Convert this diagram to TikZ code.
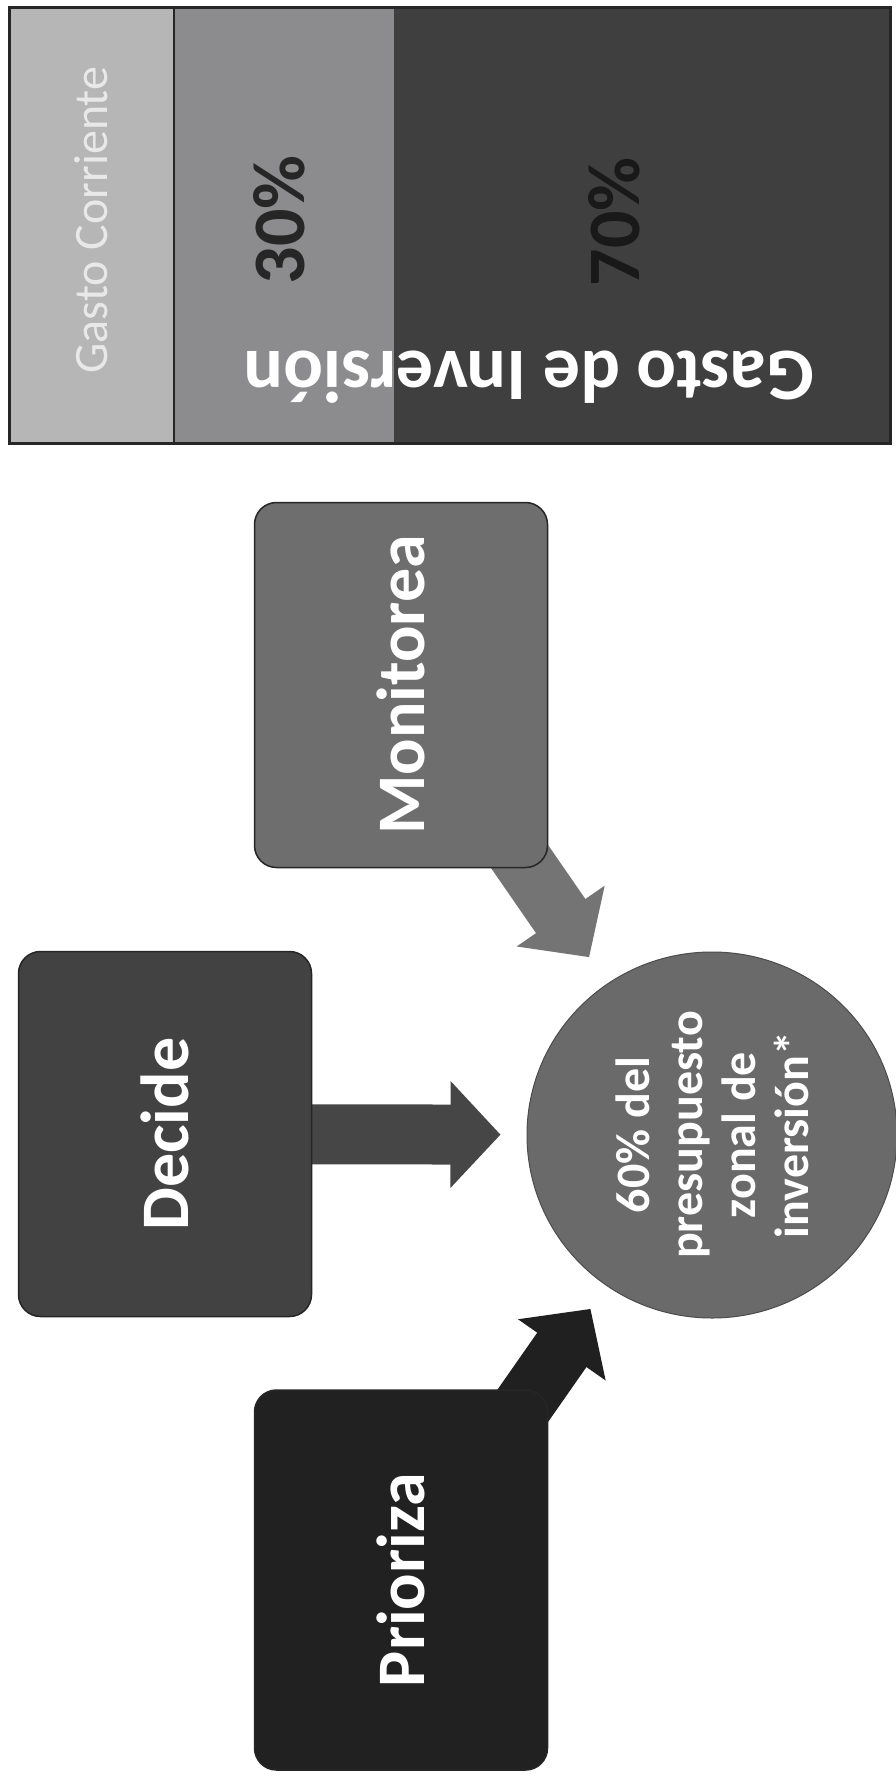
\documentclass[tikz,border=0pt]{standalone}
\usepackage{fontspec}
\setmainfont{Carlito}
\usetikzlibrary{arrows.meta, shapes.geometric}

\pgfdeclarelayer{fondo}
\pgfdeclarelayer{flechas}
\pgfsetlayers{fondo,flechas,main}

\definecolor{grisclaro}{HTML}{B6B6B6}
\definecolor{grismedio}{HTML}{8C8C8E}
\definecolor{grisoscuro}{HTML}{3F3F3F}
\definecolor{textoclaro}{HTML}{E8E8E8}
\definecolor{cajamonitorea}{HTML}{6E6E6E}
\definecolor{cajadecide}{HTML}{424242}
\definecolor{cajaprioriza}{HTML}{212121}
\definecolor{circulogris}{HTML}{6A6A6A}
\definecolor{flechamonitorea}{HTML}{747474}
\definecolor{flechadecide}{HTML}{464646}
\definecolor{flechaprioriza}{HTML}{202020}

\newcommand{\porcentaje}{\fontsize{74}{76}\selectfont\bfseries}

\tikzset{
  caja/.style={rectangle, rounded corners=22pt, draw=black!85, line width=1.5pt,
    rotate=90, minimum width=365pt, minimum height=293pt, inner sep=0pt,
    text=white, font=\fontsize{68}{70}\selectfont\bfseries},
  circulo/.style={ellipse, rotate=90, minimum width=366pt, minimum height=370pt,
    inner sep=0pt, fill=circulogris, draw=black!70, line width=1pt, align=center,
    text=white, font=\fontsize{48}{53}\selectfont\bfseries},
  flecha/.style={line width=60pt, -{Triangle[width=104pt, length=50pt]}}
}

\begin{document}
\begin{tikzpicture}[x=1pt, y=-1pt]
\useasboundingbox (0,0) rectangle (896,1776);
\begin{pgfonlayer}{fondo}
\fill[white] (0,0) rectangle (896,1776);
\end{pgfonlayer}

% Barra superior: gasto corriente y gasto de inversión
\fill[grisclaro] (9,8) rectangle (174,443);
\fill[grismedio] (174,8) rectangle (394,443);
\fill[grisoscuro] (394,8) rectangle (890,443);
\draw[line width=2pt, black!85] (174,8) -- (174,443);
\draw[line width=3pt, black!85] (9,8) rectangle (890,443);
\node[rotate=90, text=textoclaro, font=\fontsize{48}{50}\selectfont] (corriente) at (91,220) {Gasto Corriente};
\node[rotate=90, text=black!85, font=\porcentaje] (treinta) at (279,220) {30\%};
\node[rotate=90, text=black!90, font=\porcentaje] (setenta) at (614,222) {70\%};
\node[rotate=180, text=white, font=\porcentaje] (inversion) at (529,377) {Gasto de Inversión};

% Cajas: monitorea, decide, prioriza
\node[caja, fill=cajamonitorea] (monitorea) at (401,685) {Monitorea};
\node[caja, fill=cajadecide] (decide) at (165,1134) {Decide};
\node[caja, fill=cajaprioriza, minimum width=380pt] (prioriza) at (401,1580) {Prioriza};

% Círculo: 60% del presupuesto
\node[circulo] (presupuesto) at (712,1135) {60\% del\\presupuesto\\zonal de\\inversión*};

% Flechas hacia el círculo
\begin{pgfonlayer}{flechas}
\draw[flecha, draw=flechamonitorea, shorten >=32pt] (monitorea.center) -- (presupuesto);
\draw[flecha, draw=flechadecide, shorten >=26pt] (decide.center) -- (presupuesto);
\draw[flecha, draw=flechaprioriza, shorten >=28pt] (prioriza.center) -- (presupuesto);
\end{pgfonlayer}
\end{tikzpicture}
\end{document}
